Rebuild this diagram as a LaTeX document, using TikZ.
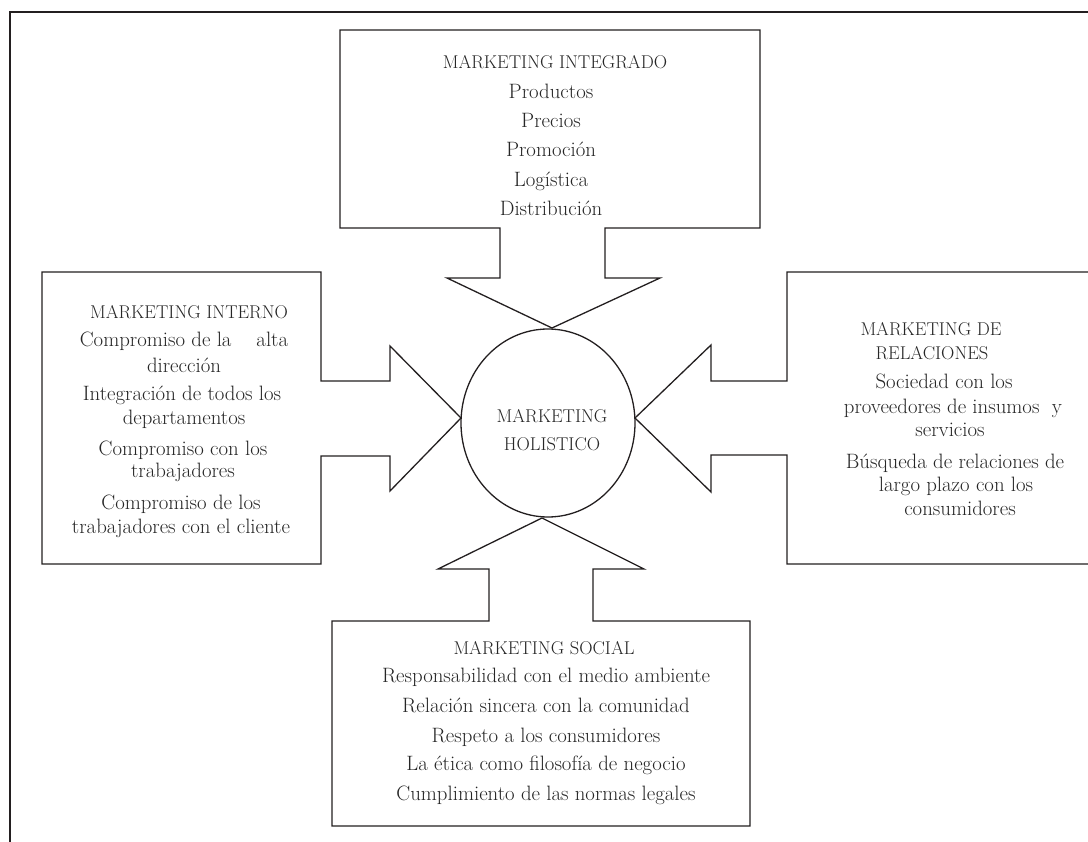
\documentclass[tikz,border=0pt]{standalone}
\usepackage{fontspec}
\begin{document}
\begin{tikzpicture}[x=1pt,y=-1pt,
  callout/.style={draw=ink,line width=1.3pt,line join=miter,fill=white},
  head/.style={anchor=base,inner sep=0pt,text=txtgray,font=\fontsize{18.5}{22}\selectfont},
  body/.style={anchor=base,inner sep=0pt,text=txtgray,font=\fontsize{20.8}{24}\selectfont}]
\definecolor{ink}{HTML}{231F20}
\definecolor{txtgray}{HTML}{262626}
\useasboundingbox (0,0) rectangle (1088,842);
\clip (0,0) rectangle (1088,842);

% outer frame (top and left rules)
\draw[ink,line width=1.8pt] (10,845) -- (10,12) -- (1095,12);

% callout shapes: box with an arrow pointing at the hub
\draw[callout] (340,30) -- (760,30) -- (760,228) -- (605,228) -- (605,278)
  -- (660,278) -- (552,328) -- (447,278) -- (500,278) -- (500,228)
  -- (340,228) -- cycle;
\draw[callout] (42,272) -- (321,272) -- (321,381) -- (390,381) -- (390,346)
  -- (461,418) -- (390,491) -- (390,456) -- (321,456) -- (321,564)
  -- (42,564) -- cycle;
\draw[callout] (1095,272) -- (787,272) -- (787,381) -- (711,381) -- (711,345)
  -- (635,418) -- (711,492) -- (711,455) -- (787,455) -- (787,564)
  -- (1095,564);
\draw[callout] (332,826) -- (750,826) -- (750,621) -- (593,621) -- (593,569)
  -- (644,569) -- (542,518) -- (438,569) -- (489,569) -- (489,621)
  -- (332,621) -- cycle;

% hub
\draw[ink,line width=1.3pt] (548,423) ellipse [x radius=87, y radius=94];
\node[head] (hubA) at (552,423) {MARKETING};
\node[head] (hubB) at (552,450) {HOLISTICO};

% integrated marketing
\node[head] (intT) at (555,69) {MARKETING INTEGRADO};
\node[body] (int1) at (551,99) {Productos};
\node[body] (int2) at (551,128) {Precios};
\node[body] (int3) at (551,157) {Promoción};
\node[body] (int4) at (551,187) {Logística};
\node[body] (int5) at (551,216) {Distribución};

% internal marketing
\node[head] (inT) at (189,319) {MARKETING INTERNO};
\node[body] (in1) at (184,347) {Compromiso de la\hspace{1.2em}alta};
\node[body] (in2) at (184,373) {dirección};
\node[body] (in3) at (182,401) {Integración de todos los};
\node[body] (in4) at (184,425) {departamentos};
\node[body] (in5) at (183,456) {Compromiso con los};
\node[body] (in6) at (183,478) {trabajadores};
\node[body] (in7) at (181,509) {Compromiso de los};
\node[body] (in8) at (181,533) {trabajadores con el cliente};

% relationship marketing
\node[head] (relT) at (931,336) {MARKETING DE};
\node[head] (relT2) at (932,360) {RELACIONES};
\node[body] (rel1) at (944,389) {Sociedad con los};
\node[body] (rel2) at (953,414) {proveedores de insumos\hspace{0.6em}y};
\node[body] (rel3) at (950,437) {servicios};
\node[body] (rel4) at (955,468) {Búsqueda de relaciones de};
\node[body] (rel5) at (956,492) {largo plazo con los};
\node[body] (rel6) at (960,515) {consumidores};

% social marketing
\node[head] (socT) at (544,654) {MARKETING SOCIAL};
\node[body] (soc1) at (546,682) {Responsabilidad con el medio ambiente};
\node[body] (soc2) at (546,712) {Relación sincera con la comunidad};
\node[body] (soc3) at (546,742) {Respeto a los consumidores};
\node[body] (soc4) at (546,770) {La ética como filosofía de negocio};
\node[body] (soc5) at (546,800) {Cumplimiento de las normas legales};
\end{tikzpicture}
\end{document}
